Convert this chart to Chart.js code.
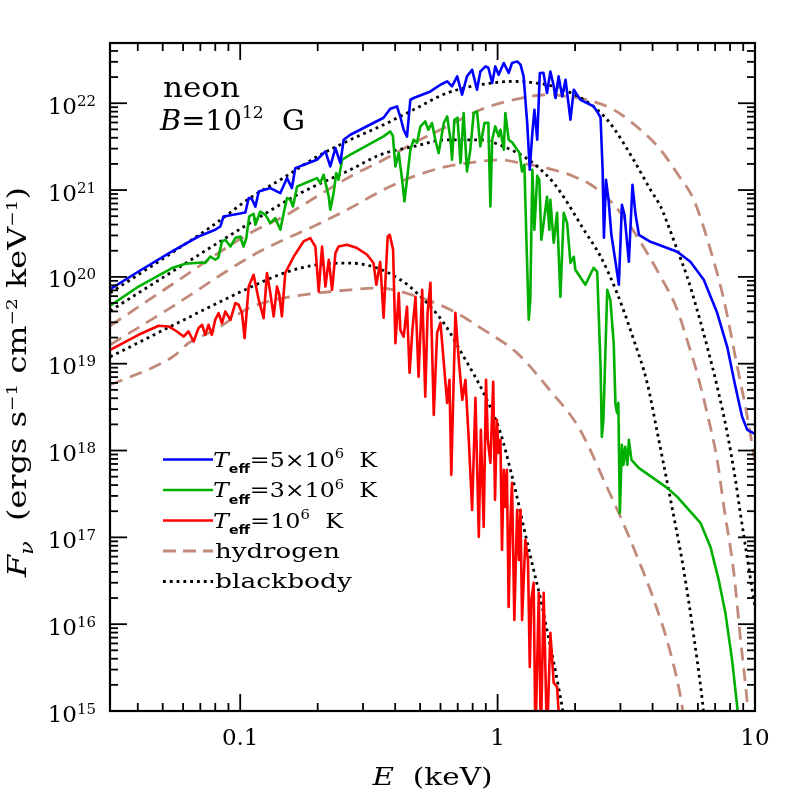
<!DOCTYPE html>
<html><head><meta charset="utf-8">
<script src="https://cdn.jsdelivr.net/npm/chart.js@4/dist/chart.umd.min.js"></script>
<style>html,body{margin:0;padding:0;background:#fff;}canvas{display:block;}</style>
</head><body>
<canvas id="c" width="797" height="797"></canvas>
<script>
// Each series: [log10 E (keV), log10 F_nu (ergs s^-1 cm^-2 keV^-1)]
const blueSpectrum = [[-1.505,19.859],[-1.395,20.062],[-1.265,20.293],[-1.162,20.465],[-1.097,20.543],[-1.077,20.581],[-1.065,20.696],[-1.006,20.727],[-0.980,20.742],[-0.967,20.908],[-0.955,20.900],[-0.941,20.808],[-0.928,20.984],[-0.883,21.023],[-0.844,20.965],[-0.818,21.138],[-0.799,21.023],[-0.786,21.253],[-0.702,21.349],[-0.669,21.445],[-0.650,21.272],[-0.630,21.484],[-0.611,21.311],[-0.598,21.580],[-0.572,21.637],[-0.443,21.833],[-0.417,21.937],[-0.391,21.963],[-0.378,21.844],[-0.365,21.695],[-0.352,21.614],[-0.339,22.040],[-0.326,22.060],[-0.261,22.136],[-0.222,22.213],[-0.196,22.251],[-0.177,22.194],[-0.157,22.309],[-0.138,22.098],[-0.119,22.309],[-0.099,22.386],[-0.080,22.156],[-0.067,22.366],[-0.047,22.424],[-0.036,22.409],[-0.021,22.233],[-0.009,22.424],[0.004,22.328],[0.024,22.463],[0.043,22.348],[0.056,22.463],[0.076,22.482],[0.089,22.444],[0.101,22.309],[0.115,21.772],[0.125,21.234],[0.134,21.618],[0.143,21.925],[0.154,21.580],[0.164,22.348],[0.178,22.351],[0.192,22.118],[0.205,22.366],[0.217,22.213],[0.225,22.060],[0.237,22.309],[0.251,22.078],[0.264,22.271],[0.283,21.810],[0.296,22.156],[0.322,22.040],[0.373,21.963],[0.387,21.902],[0.400,21.833],[0.408,21.234],[0.413,20.450],[0.421,21.119],[0.431,20.888],[0.442,20.485],[0.458,20.174],[0.471,19.909],[0.483,20.831],[0.493,20.715],[0.510,20.174],[0.524,21.061],[0.536,20.715],[0.549,20.485],[0.594,20.404],[0.698,20.289],[0.749,20.174],[0.801,19.967],[0.853,19.586],[0.892,19.195],[0.924,18.734],[0.950,18.388],[0.970,18.238],[1.000,18.192]];

const greenSpectrum = [[-1.505,19.667],[-1.395,19.889],[-1.265,20.101],[-1.213,20.151],[-1.148,20.166],[-1.136,20.159],[-1.116,20.235],[-1.097,20.197],[-1.085,20.220],[-1.071,20.408],[-1.058,20.427],[-1.038,20.350],[-1.019,20.447],[-1.000,20.465],[-0.987,20.350],[-0.976,20.450],[-0.965,20.696],[-0.948,20.727],[-0.941,20.600],[-0.922,20.753],[-0.902,20.715],[-0.883,20.620],[-0.864,20.677],[-0.844,20.543],[-0.831,20.735],[-0.818,20.908],[-0.805,20.888],[-0.795,20.811],[-0.779,21.041],[-0.702,21.138],[-0.689,21.081],[-0.676,21.176],[-0.656,20.926],[-0.650,20.773],[-0.637,20.965],[-0.627,21.196],[-0.618,21.119],[-0.604,21.349],[-0.572,21.407],[-0.443,21.618],[-0.417,21.675],[-0.407,21.626],[-0.397,21.272],[-0.384,21.426],[-0.371,21.119],[-0.362,20.869],[-0.352,21.119],[-0.339,21.464],[-0.326,21.580],[-0.313,21.545],[-0.300,21.733],[-0.281,21.790],[-0.269,21.695],[-0.255,21.772],[-0.242,21.580],[-0.229,21.426],[-0.209,21.772],[-0.196,21.848],[-0.183,21.580],[-0.177,21.349],[-0.168,21.810],[-0.156,21.833],[-0.144,21.311],[-0.132,21.887],[-0.119,21.214],[-0.106,21.464],[-0.093,21.887],[-0.080,21.906],[-0.067,21.503],[-0.051,21.772],[-0.036,21.775],[-0.028,20.811],[-0.021,21.580],[-0.009,21.733],[0.004,21.618],[0.011,21.695],[0.024,21.464],[0.030,21.887],[0.043,21.580],[0.058,21.545],[0.076,21.464],[0.085,21.430],[0.095,21.214],[0.104,21.291],[0.112,20.427],[0.121,19.506],[0.127,19.736],[0.135,21.234],[0.143,20.543],[0.154,21.165],[0.162,21.119],[0.170,20.427],[0.178,20.600],[0.192,20.923],[0.201,20.543],[0.205,20.888],[0.218,20.393],[0.231,20.738],[0.244,19.771],[0.257,20.738],[0.270,20.623],[0.283,20.162],[0.296,20.232],[0.302,20.082],[0.341,19.909],[0.373,20.105],[0.387,20.059],[0.400,18.965],[0.405,18.158],[0.411,18.353],[0.426,19.851],[0.438,19.736],[0.451,19.241],[0.458,18.526],[0.464,18.434],[0.469,18.549],[0.475,17.282],[0.483,18.066],[0.489,17.835],[0.496,18.043],[0.504,17.835],[0.510,18.123],[0.520,17.893],[0.548,17.800],[0.659,17.570],[0.698,17.466],[0.788,17.167],[0.827,16.890],[0.859,16.510],[0.885,16.130],[0.911,15.588],[0.931,15.047],[0.944,14.667]];

const redSpectrum = [[-1.505,19.160],[-1.395,19.333],[-1.317,19.437],[-1.278,19.429],[-1.246,19.371],[-1.220,19.313],[-1.201,19.371],[-1.181,19.256],[-1.162,19.410],[-1.148,19.448],[-1.136,19.333],[-1.123,19.448],[-1.110,19.333],[-1.097,19.506],[-1.084,19.583],[-1.071,19.468],[-1.058,19.601],[-1.038,19.506],[-1.019,19.698],[-1.006,19.679],[-0.993,19.583],[-0.983,19.295],[-0.967,19.889],[-0.948,20.024],[-0.928,19.736],[-0.909,19.525],[-0.896,20.044],[-0.883,19.813],[-0.870,19.544],[-0.857,19.889],[-0.848,19.794],[-0.838,19.544],[-0.825,20.044],[-0.792,20.235],[-0.754,20.408],[-0.728,20.447],[-0.708,20.350],[-0.695,19.832],[-0.682,20.350],[-0.669,19.889],[-0.656,20.197],[-0.643,19.851],[-0.630,20.274],[-0.618,20.350],[-0.585,20.370],[-0.546,20.332],[-0.507,20.255],[-0.482,20.159],[-0.471,19.909],[-0.456,20.174],[-0.443,19.529],[-0.427,20.465],[-0.419,20.485],[-0.406,20.312],[-0.397,19.237],[-0.384,19.813],[-0.378,19.390],[-0.365,19.310],[-0.352,19.655],[-0.342,18.895],[-0.331,19.390],[-0.319,19.771],[-0.307,18.849],[-0.293,19.851],[-0.281,18.619],[-0.272,19.586],[-0.261,19.932],[-0.248,18.411],[-0.235,19.356],[-0.222,19.471],[-0.209,19.010],[-0.196,18.549],[-0.187,18.814],[-0.180,17.720],[-0.164,19.586],[-0.151,19.045],[-0.137,18.584],[-0.125,18.814],[-0.112,18.123],[-0.099,17.317],[-0.086,18.607],[-0.073,17.006],[-0.065,18.238],[-0.054,17.121],[-0.045,18.814],[-0.038,18.123],[-0.028,17.858],[-0.017,18.791],[-0.010,17.432],[-0.003,18.354],[0.004,17.973],[0.011,18.123],[0.017,16.856],[0.024,17.778],[0.030,17.351],[0.036,17.778],[0.043,16.199],[0.050,17.201],[0.056,17.628],[0.065,16.049],[0.076,17.317],[0.083,16.741],[0.089,17.317],[0.095,16.049],[0.108,16.971],[0.118,16.741],[0.125,15.508],[0.131,16.280],[0.140,16.476],[0.147,14.667],[0.160,16.360],[0.168,14.667],[0.179,16.360],[0.192,14.667],[0.205,15.900],[0.218,15.324],[0.231,15.278],[0.244,14.667]];

const bbHot = [[-1.505,19.817],[-1.265,20.278],[-1.097,20.612],[-0.961,20.911],[-0.831,21.142],[-0.702,21.384],[-0.572,21.579],[-0.443,21.752],[-0.327,21.925],[-0.196,22.118],[-0.067,22.213],[0.061,22.251],[0.128,22.240],[0.217,22.194],[0.322,22.063],[0.400,21.891],[0.450,21.718],[0.528,21.349],[0.594,21.003],[0.633,20.811],[0.659,20.623],[0.698,20.312],[0.736,20.005],[0.775,19.621],[0.814,19.198],[0.853,18.737],[0.892,18.204],[0.924,17.664],[0.944,17.259],[0.970,16.764],[0.989,16.395],[1.000,16.199]];
const bbMid = [[-1.505,19.609],[-1.265,20.059],[-0.954,20.635],[-0.766,20.965],[-0.572,21.234],[-0.455,21.407],[-0.326,21.502],[-0.196,21.579],[-0.067,21.579],[0.037,21.484],[0.101,21.387],[0.154,21.272],[0.218,21.081],[0.264,20.888],[0.335,20.543],[0.400,20.235],[0.464,19.813],[0.529,19.275],[0.581,18.780],[0.620,18.215],[0.672,17.432],[0.723,16.625],[0.762,15.865],[0.795,15.128],[0.811,14.667]];
const bbCool = [[-1.505,19.079],[-1.265,19.437],[-0.954,19.889],[-0.831,20.044],[-0.702,20.139],[-0.572,20.159],[-0.468,20.101],[-0.378,19.967],[-0.313,19.813],[-0.209,19.468],[-0.132,19.083],[-0.054,18.661],[0.011,18.204],[0.050,17.777],[0.069,17.547],[0.101,17.124],[0.134,16.700],[0.166,16.300],[0.192,15.930],[0.218,15.560],[0.237,15.270],[0.251,15.040],[0.260,14.840]];

const hHot = [[-1.505,19.437],[-1.265,19.912],[-0.961,20.505],[-0.831,20.696],[-0.702,20.926],[-0.572,21.157],[-0.443,21.349],[-0.326,21.541],[-0.196,21.733],[-0.067,21.925],[0.063,22.040],[0.192,22.098],[0.270,22.078],[0.348,22.040],[0.451,21.925],[0.555,21.695],[0.633,21.464],[0.698,21.190],[0.762,20.888],[0.827,20.312],[0.879,19.736],[0.931,18.968],[0.970,18.392],[1.000,17.870]];
const hMid = [[-1.505,19.218],[-1.265,19.655],[-0.961,20.232],[-0.831,20.427],[-0.702,20.600],[-0.572,20.793],[-0.436,21.015],[-0.326,21.157],[-0.196,21.272],[-0.067,21.330],[0.011,21.349],[0.089,21.311],[0.192,21.253],[0.296,21.157],[0.373,21.041],[0.448,20.842],[0.516,20.581],[0.542,20.465],[0.633,20.005],[0.698,19.621],[0.736,19.275],[0.775,18.892],[0.814,18.431],[0.853,17.893],[0.879,17.355],[0.918,16.587],[0.944,15.819],[0.970,15.090],[0.975,14.900]];
const hCool = [[-1.505,18.757],[-1.304,19.007],[-1.252,19.102],[-1.201,19.237],[-1.097,19.390],[-0.967,19.640],[-0.831,19.756],[-0.702,19.813],[-0.572,19.851],[-0.468,19.871],[-0.404,19.851],[-0.313,19.774],[-0.183,19.621],[-0.054,19.390],[0.076,19.122],[0.218,18.642],[0.296,18.354],[0.341,18.123],[0.412,17.662],[0.477,17.240],[0.542,16.779],[0.607,16.280],[0.672,15.666],[0.717,15.051],[0.726,14.840]];

const xTickValues = [0.1, 1, 10];
const xTickLabels = ['0.1', '1', '10'];
const yTickExponents = [15, 16, 17, 18, 19, 20, 21, 22];
const legendLabels = ['5\u00d710', '3\u00d710', '10', 'hydrogen', 'blackbody'];

const X_MIN = 0.0312, X_MAX = 10, Y_MIN = 1e15, Y_MAX = 4.94e22;

const SERIF = '"DejaVu Serif", serif';
const SANS = '"DejaVu Sans", sans-serif';
const C_BLUE = '#0000ff', C_GREEN = '#00b000', C_RED = '#ff0000', C_H = '#c18a7b', C_BB = '#000000';

function toPts(arr) { return arr.map(p => ({x: Math.pow(10, p[0]), y: Math.pow(10, p[1])})); }

function solid(data, color, order) {
  return {data: toPts(data), borderColor: color, borderWidth: 2.6, pointRadius: 0, fill: false, tension: 0, order: order, borderJoinStyle: 'round'};
}
function dashed(data, order) {
  return {data: toPts(data), borderColor: C_H, borderWidth: 2.8, borderDash: [13, 8], pointRadius: 0, fill: false, tension: 0.3, cubicInterpolationMode: 'monotone', order: order, borderCapStyle: 'butt'};
}
function dotted(data, order) {
  return {data: toPts(data), borderColor: C_BB, borderWidth: 2.8, borderDash: [2.8, 4], pointRadius: 0, fill: false, cubicInterpolationMode: 'monotone', order: order, borderCapStyle: 'butt'};
}

function rich(ctx, segs, o) {
  let w = 0;
  segs.forEach(s => { ctx.font = s.f; s.w = ctx.measureText(s.t).width; w += s.w; });
  const sx = o.width ? o.width / w : 1;
  ctx.save();
  ctx.translate(o.x, o.y);
  if (o.rot) ctx.rotate(o.rot);
  ctx.scale(sx, 1);
  let cx = o.align === 'right' ? -w : (o.align === 'center' ? -w / 2 : 0);
  ctx.fillStyle = '#000'; ctx.textAlign = 'left'; ctx.textBaseline = 'alphabetic';
  segs.forEach(s => { ctx.font = s.f; ctx.fillText(s.t, cx, s.dy || 0); cx += s.w; });
  ctx.restore();
}

const decor = {
  id: 'decor',
  afterDraw(chart) {
    const ctx = chart.ctx, a = chart.chartArea, xs = chart.scales.x, ys = chart.scales.y;
    ctx.save();
    ctx.strokeStyle = '#000';
    function ln(x1, y1, x2, y2) { ctx.beginPath(); ctx.moveTo(x1, y1); ctx.lineTo(x2, y2); ctx.stroke(); }
    ctx.lineWidth = 1.8;
    for (let d = -2; d <= 1; d++) for (let m = 1; m <= 9; m++) {
      const v = m * Math.pow(10, d);
      if (v < X_MIN * 0.999 || v > X_MAX * 1.001) continue;
      const px = xs.getPixelForValue(v), L = m === 1 ? 17 : 8;
      ln(px, a.bottom, px, a.bottom - L); ln(px, a.top, px, a.top + L);
    }
    for (let d = 15; d <= 22; d++) for (let m = 1; m <= 9; m++) {
      const v = m * Math.pow(10, d);
      if (v > Y_MAX) continue;
      const py = ys.getPixelForValue(v), L = m === 1 ? 17 : 8;
      ln(a.left, py, a.left + L, py); ln(a.right, py, a.right - L, py);
    }
    ctx.lineWidth = 2.2;
    ctx.strokeRect(a.left, a.top, a.right - a.left, a.bottom - a.top);

    // tick labels
    xTickValues.forEach((v, i) => {
      rich(ctx, [{t: xTickLabels[i], f: '23px ' + SERIF}], {x: xs.getPixelForValue(v), y: a.bottom + 34, align: 'center'});
    });
    yTickExponents.forEach(e => {
      const py = ys.getPixelForValue(Math.pow(10, e));
      rich(ctx, [{t: '10', f: '23px ' + SERIF, dy: 0}, {t: String(e), f: '15px ' + SERIF, dy: -8}], {x: 96, y: py + 10.5, align: 'right'});
    });

    // axis titles
    rich(ctx, [{t: 'E', f: 'italic 24px ' + SERIF}, {t: '  (keV)', f: '24px ' + SERIF}], {x: (a.left + a.right) / 2, y: 785, align: 'center', width: 120});
    rich(ctx, [
      {t: 'F', f: 'italic 26px ' + SERIF},
      {t: '\u03bd', f: 'italic 18px ' + SERIF, dy: 7},
      {t: '  (ergs s', f: '26px ' + SERIF},
      {t: '\u22121', f: '15px ' + SERIF, dy: -9},
      {t: ' cm', f: '26px ' + SERIF},
      {t: '\u22122', f: '15px ' + SERIF, dy: -9},
      {t: ' keV', f: '26px ' + SERIF},
      {t: '\u22121', f: '15px ' + SERIF, dy: -9},
      {t: ')', f: '26px ' + SERIF}
    ], {x: 26, y: 382, rot: -Math.PI / 2, align: 'center', width: 390});

    // annotation
    rich(ctx, [{t: 'neon', f: '28px ' + SERIF}], {x: 163, y: 97, width: 77});
    rich(ctx, [{t: 'B', f: 'italic 27px ' + SERIF}, {t: '=10', f: '27px ' + SERIF}, {t: '12', f: '16px ' + SERIF, dy: -12}, {t: '  G', f: '27px ' + SERIF}], {x: 160, y: 130, width: 145});

    // legend
    const rows = [459.5, 490, 520.5, 551, 581.5];
    const x0 = 163, x1 = 213;
    ctx.lineWidth = 2.6; ctx.setLineDash([]);
    ctx.strokeStyle = C_BLUE; ln(x0, rows[0], x1, rows[0]);
    ctx.strokeStyle = C_GREEN; ln(x0, rows[1], x1, rows[1]);
    ctx.strokeStyle = C_RED; ln(x0, rows[2], x1, rows[2]);
    ctx.lineWidth = 2.8; ctx.lineCap = 'butt';
    ctx.strokeStyle = C_H; ctx.setLineDash([13, 7]); ln(x0, rows[3], x1, rows[3]);
    ctx.strokeStyle = C_BB; ctx.setLineDash([2.8, 4]); ln(x0, rows[4], x1, rows[4]);
    ctx.setLineDash([]);
    const tSegs = (txt) => [
      {t: 'T', f: 'italic 21px ' + SERIF},
      {t: 'eff', f: 'bold 12.5px ' + SANS, dy: 6.5},
      {t: '=' + txt, f: '21px ' + SERIF},
      {t: '6', f: '13px ' + SERIF, dy: -8.5},
      {t: '  K', f: '21px ' + SERIF}
    ];
    rich(ctx, tSegs(legendLabels[0]), {x: 213, y: rows[0] + 7.3, width: 164});
    rich(ctx, tSegs(legendLabels[1]), {x: 213, y: rows[1] + 7.3, width: 164});
    rich(ctx, tSegs(legendLabels[2]), {x: 213, y: rows[2] + 7.3, width: 130});
    rich(ctx, [{t: legendLabels[3], f: '21px ' + SERIF}], {x: 215, y: rows[3] + 6.5, width: 125});
    rich(ctx, [{t: legendLabels[4], f: '21px ' + SERIF}], {x: 215, y: rows[4] + 6.8, width: 137});
    ctx.restore();
  }
};

new Chart(document.getElementById('c'), {
  type: 'line',
  data: {
    datasets: [
      solid(blueSpectrum, C_BLUE, 0),
      solid(greenSpectrum, C_GREEN, 1),
      solid(redSpectrum, C_RED, 2),
      dotted(bbHot, 3), dotted(bbMid, 4), dotted(bbCool, 5),
      dashed(hHot, 6), dashed(hMid, 7), dashed(hCool, 8)
    ]
  },
  options: {
    responsive: false, animation: false, devicePixelRatio: 1,
    layout: {padding: {left: 110, right: 42, top: 43, bottom: 86}},
    scales: {
      x: {type: 'logarithmic', min: X_MIN, max: X_MAX, display: false},
      y: {type: 'logarithmic', min: Y_MIN, max: Y_MAX, display: false}
    },
    plugins: {legend: {display: false}, tooltip: {enabled: false}},
    elements: {point: {radius: 0}}
  },
  plugins: [decor]
});
</script>
</body></html>
